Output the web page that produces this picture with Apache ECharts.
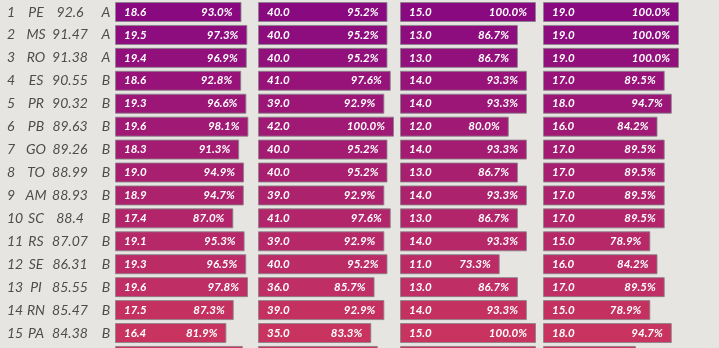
<!DOCTYPE html>
<html>
<head>
<meta charset="utf-8">
<script src="https://cdn.jsdelivr.net/npm/echarts@6/dist/echarts.min.js"></script>
<style>
  html, body { margin: 0; padding: 0; background: #e7e5e1; }
  #chart { width: 719px; height: 348px; }
</style>
</head>
<body>
<div id="chart"></div>
<script>
// State ranking table: rank, state, overall score, grade
const ranks  = ['1', '2', '3', '4', '5', '6', '7', '8', '9', '10', '11', '12', '13', '14', '15', '16'];
const states = ['PE', 'MS', 'RO', 'ES', 'PR', 'PB', 'GO', 'TO', 'AM', 'SC', 'RS', 'SE', 'PI', 'RN', 'PA', ''];
const scores = ['92.6', '91.47', '91.38', '90.55', '90.32', '89.63', '89.26', '88.99', '88.93', '88.4', '87.07', '86.31', '85.55', '85.47', '84.38', ''];
const grades = ['A', 'A', 'A', 'B', 'B', 'B', 'B', 'B', 'B', 'B', 'B', 'B', 'B', 'B', 'B', ''];

// Component 1 (max 20 points)
const pointsA  = [18.6, 19.5, 19.4, 18.6, 19.3, 19.6, 18.3, 19.0, 18.9, 17.4, 19.1, 19.3, 19.6, 17.5, 16.4, 18.8];
const percentA = [93.0, 97.3, 96.9, 92.8, 96.6, 98.1, 91.3, 94.9, 94.7, 87.0, 95.3, 96.5, 97.8, 87.3, 81.9, 94.0];
// Component 2 (max 42 points)
const pointsB  = [40.0, 40.0, 40.0, 41.0, 39.0, 42.0, 40.0, 40.0, 39.0, 41.0, 39.0, 40.0, 36.0, 39.0, 35.0, 37.0];
const percentB = [95.2, 95.2, 95.2, 97.6, 92.9, 100.0, 95.2, 95.2, 92.9, 97.6, 92.9, 95.2, 85.7, 92.9, 83.3, 88.1];
// Component 3 (max 15 points)
const pointsC  = [15.0, 13.0, 13.0, 14.0, 14.0, 12.0, 14.0, 13.0, 14.0, 13.0, 14.0, 11.0, 13.0, 14.0, 15.0, 15.0];
const percentC = [100.0, 86.7, 86.7, 93.3, 93.3, 80.0, 93.3, 86.7, 93.3, 86.7, 93.3, 73.3, 86.7, 93.3, 100.0, 100.0];
// Component 4 (max 19 points)
const pointsD  = [19.0, 19.0, 19.0, 17.0, 18.0, 16.0, 17.0, 17.0, 17.0, 17.0, 15.0, 16.0, 17.0, 15.0, 18.0, 13.0];
const percentD = [100.0, 100.0, 100.0, 89.5, 94.7, 84.2, 89.5, 89.5, 89.5, 89.5, 78.9, 84.2, 89.5, 78.9, 94.7, 68.4];

const columns = [
  { points: pointsA, percent: percentA },
  { points: pointsB, percent: percentB },
  { points: pointsC, percent: percentC },
  { points: pointsD, percent: percentD }
];

const FONT = 'Lato';
const rowCount = ranks.length;
const rowPitch = 22.93;
const firstRowCenter = 12;
const colLefts = [115, 258, 400, 543];
const colWidth = 136;

// Row colour runs from deep purple at the top to raspberry further down
const topColor = [137, 10, 128];
const bottomColor = [200, 52, 95];
function rowColor(i) {
  const t = Math.min(i / 14, 1.1);
  const c = topColor.map((v, k) => Math.round(v + (bottomColor[k] - v) * t));
  return 'rgb(' + c.join(',') + ')';
}

const gridTop = firstRowCenter - rowPitch / 2;
const grids = colLefts.map(left => ({
  left: left, top: gridTop, width: colWidth, height: rowPitch * rowCount,
  containLabel: false, outerBoundsMode: 'none'
}));

const xAxes = colLefts.map((_, i) => ({
  gridIndex: i, type: 'value', min: 0, max: 100, show: false
}));

const labelText = { fontFamily: FONT, fontStyle: 'italic', fontSize: 14, color: '#4d4d4d' };

const yAxes = colLefts.map((_, i) => ({
  gridIndex: i,
  type: 'category',
  inverse: true,
  data: ranks.map((r, k) => k),
  axisLine: { show: false },
  axisTick: { show: false },
  splitLine: { show: false },
  axisLabel: i === 0 ? {
    show: true,
    align: 'left',
    margin: colLefts[0] - 7,
    formatter: function (v) {
      const k = Number(v);
      return '{r|' + ranks[k] + '}{c|' + states[k] + '}{s|' + scores[k] + '}{g|' + grades[k] + '}';
    },
    rich: {
      r: Object.assign({ width: 16, align: 'left' }, labelText),
      c: Object.assign({ width: 26, align: 'center' }, labelText),
      s: Object.assign({ width: 42, align: 'center' }, labelText),
      g: Object.assign({ width: 16, padding: [0, 0, 0, 7], align: 'left' }, labelText)
    }
  } : { show: false }
}));

const series = [];
columns.forEach((col, ci) => {
  // filled bar with the points label on the left
  series.push({
    type: 'bar',
    xAxisIndex: ci,
    yAxisIndex: ci,
    barWidth: 20,
    barGap: '-100%',
    silent: true,
    data: col.percent.map((p, k) => ({
      value: p,
      itemStyle: { color: rowColor(k) }
    })),
    itemStyle: { borderColor: 'rgba(135,130,135,0.85)', borderWidth: 1 },
    label: {
      show: true,
      position: 'insideLeft',
      distance: 9,
      formatter: function (p) { return col.points[p.dataIndex].toFixed(1); },
      fontFamily: FONT, fontStyle: 'italic', fontWeight: 'bold', fontSize: 11.5, color: '#ffffff'
    }
  });
  // overlay carrying the percentage label on the right end
  series.push({
    type: 'bar',
    xAxisIndex: ci,
    yAxisIndex: ci,
    barWidth: 20,
    barGap: '-100%',
    silent: true,
    data: col.percent,
    itemStyle: { color: 'rgba(0,0,0,0)' },
    label: {
      show: true,
      position: 'insideRight',
      distance: 9,
      formatter: function (p) { return p.value.toFixed(1) + '%'; },
      fontFamily: FONT, fontStyle: 'italic', fontWeight: 'bold', fontSize: 11.5, color: '#ffffff'
    }
  });
});

const chart = echarts.init(document.getElementById('chart'), null, { renderer: 'canvas' });
chart.setOption({
  backgroundColor: '#e7e5e1',
  animation: false,
  grid: grids,
  xAxis: xAxes,
  yAxis: yAxes,
  series: series
});
</script>
</body>
</html>
